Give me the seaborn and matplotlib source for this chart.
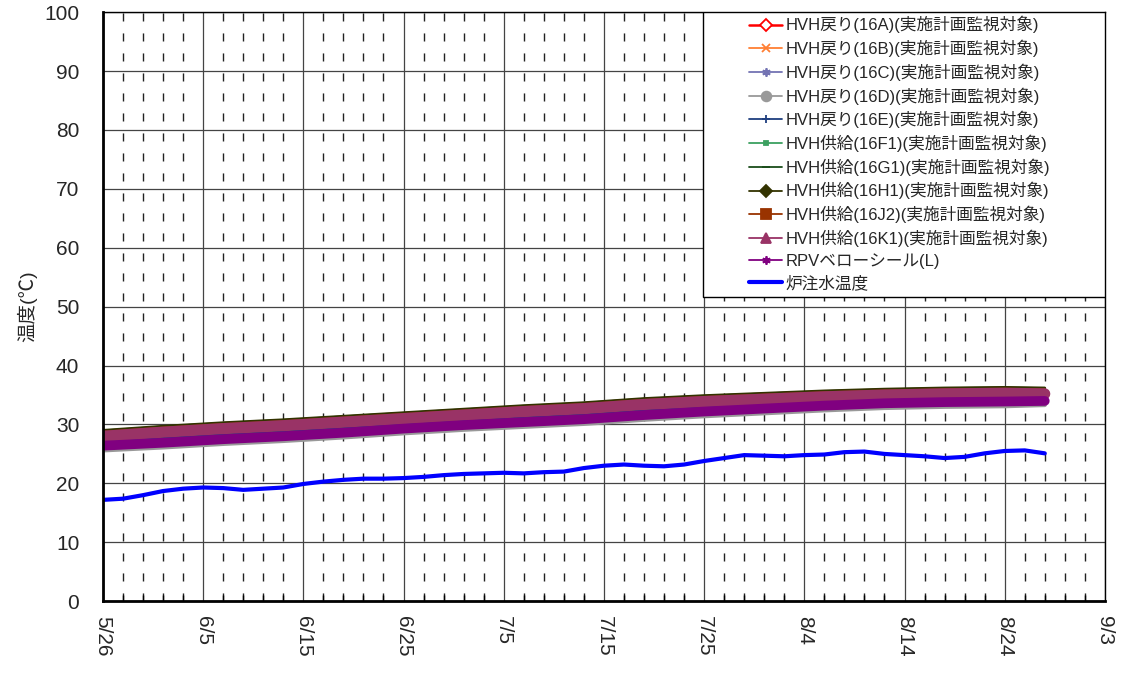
import matplotlib
matplotlib.use("Agg")
import matplotlib.pyplot as plt
from matplotlib.lines import Line2D
from matplotlib.patches import Rectangle
from matplotlib.ticker import MultipleLocator
import seaborn as sns

# x positions are days counted from 5/26
band_days = [0, 6, 12, 18, 24, 30, 36, 42, 48, 54, 60, 66, 72, 78, 84, 90, 94]
inj_days = list(range(0, 95, 2))
tick_labels = ["5/26", "6/5", "6/15", "6/25", "7/5", "7/15", "7/25", "8/4", "8/14", "8/24", "9/3"]

hvh_16a = [27.8, 28.5, 29.1, 29.6, 30.2, 30.8, 31.4, 32.0, 32.5, 33.2, 33.7, 34.1, 34.5, 34.8, 35.0, 35.1, 35.0]
hvh_16b = [27.6, 28.3, 28.9, 29.4, 30.0, 30.6, 31.2, 31.8, 32.3, 33.0, 33.5, 33.9, 34.3, 34.6, 34.8, 34.9, 34.8]
hvh_16c = [27.0, 27.7, 28.3, 28.8, 29.4, 30.0, 30.6, 31.2, 31.7, 32.4, 32.9, 33.3, 33.7, 34.0, 34.2, 34.3, 34.2]
hvh_16d = [25.6, 26.1, 26.7, 27.2, 27.8, 28.5, 29.1, 29.6, 30.1, 30.8, 31.4, 31.9, 32.4, 32.8, 33.0, 33.1, 33.3]
hvh_16e = [27.1, 27.8, 28.4, 28.9, 29.5, 30.1, 30.8, 31.4, 31.9, 32.6, 33.1, 33.5, 33.9, 34.2, 34.4, 34.5, 34.4]
hvh_16f1 = [27.4, 28.1, 28.7, 29.2, 29.8, 30.4, 31.0, 31.6, 32.1, 32.8, 33.3, 33.7, 34.1, 34.4, 34.6, 34.7, 34.6]
hvh_16g1 = [28.9, 29.6, 30.2, 30.7, 31.3, 31.9, 32.5, 33.1, 33.6, 34.3, 34.8, 35.2, 35.6, 35.9, 36.1, 36.2, 36.1]
hvh_16h1 = [29.0, 29.7, 30.3, 30.8, 31.4, 32.0, 32.6, 33.2, 33.7, 34.4, 34.9, 35.3, 35.7, 36.0, 36.2, 36.3, 36.2]
hvh_16j2 = [28.7, 29.4, 30.0, 30.5, 31.1, 31.7, 32.3, 32.9, 33.4, 34.1, 34.6, 35.0, 35.4, 35.7, 35.9, 36.0, 35.9]
hvh_16k1 = [28.0, 28.7, 29.3, 29.8, 30.4, 31.0, 31.6, 32.2, 32.7, 33.4, 33.9, 34.3, 34.7, 35.0, 35.2, 35.3, 35.2]
rpv_seal = [26.4, 26.9, 27.5, 28.0, 28.6, 29.3, 29.9, 30.4, 30.9, 31.6, 32.2, 32.7, 33.2, 33.6, 33.8, 33.9, 34.0]
inj_temp = [17.2, 17.4, 18.0, 18.7, 19.1, 19.3, 19.2, 18.9, 19.1, 19.3,
            19.9, 20.3, 20.6, 20.8, 20.8, 20.9, 21.1, 21.4, 21.6, 21.7,
            21.8, 21.7, 21.9, 22.0, 22.6, 23.0, 23.2, 23.0, 22.9, 23.2,
            23.8, 24.3, 24.8, 24.7, 24.6, 24.8, 24.9, 25.3, 25.4, 25.0,
            24.8, 24.6, 24.3, 24.5, 25.1, 25.5, 25.6, 25.1]

# label, values, colour, line width, legend marker, marker face
series = [
    ("HVH戻り(16A)(実施計画監視対象)", hvh_16a, "#FF0000", 2, "D", "white"),
    ("HVH戻り(16B)(実施計画監視対象)", hvh_16b, "#FF7F33", 2, "x", None),
    ("HVH戻り(16C)(実施計画監視対象)", hvh_16c, "#7373B3", 2, (6, 2, 0), None),
    ("HVH戻り(16D)(実施計画監視対象)", hvh_16d, "#999999", 3, "o", None),
    ("HVH戻り(16E)(実施計画監視対象)", hvh_16e, "#1F3F7F", 2.5, "+", None),
    ("HVH供給(16F1)(実施計画監視対象)", hvh_16f1, "#3CA060", 2, "s", None),
    ("HVH供給(16G1)(実施計画監視対象)", hvh_16g1, "#1A4D1A", 2, "_", None),
    ("HVH供給(16H1)(実施計画監視対象)", hvh_16h1, "#333300", 2, "D", None),
    ("HVH供給(16J2)(実施計画監視対象)", hvh_16j2, "#993300", 2, "s", None),
    ("HVH供給(16K1)(実施計画監視対象)", hvh_16k1, "#993366", 8, "^", None),
    ("RPVベローシール(L)", rpv_seal, "#800080", 7, (6, 2, 0), None),
]

sns.set_theme(style="white")
plt.rcParams["font.family"] = ["Liberation Sans", "Noto Sans CJK JP", "DejaVu Sans"]

fig, ax = plt.subplots(figsize=(11.24, 6.77), dpi=100)
fig.subplots_adjust(left=0.0916, right=0.983, top=0.982, bottom=0.112)

handles = []
for label, vals, color, lw, mk, mfc in series:
    sns.lineplot(x=band_days, y=vals, ax=ax, color=color, linewidth=lw, legend=False)
    ms = 6 if mk not in ("s", "^", "o") else 7
    if label.startswith("HVH供給(16F1)"):
        ms = 3
    handles.append(Line2D([0], [0], color=color, lw=1.8 if mfc else 1.3, marker=mk, markersize=ms,
                          markerfacecolor=mfc if mfc else color, markeredgecolor=color,
                          markeredgewidth=1.3, label=label))

sns.lineplot(x=inj_days, y=inj_temp, ax=ax, color="#0000FF", linewidth=3, legend=False)
handles.append(Line2D([0], [0], color="#0000FF", lw=3, label="炉注水温度"))

ax.set_xlim(0, 100)
ax.set_ylim(0, 100)
ax.xaxis.set_major_locator(MultipleLocator(10))
ax.xaxis.set_minor_locator(MultipleLocator(2))
ax.yaxis.set_major_locator(MultipleLocator(10))
ax.set_xticks(range(0, 101, 10))
ax.set_xticklabels(tick_labels, rotation=270, fontsize=15)
ax.tick_params(axis="y", labelsize=15, direction="in", length=0, pad=17)
ax.tick_params(axis="x", which="major", direction="in", length=6, pad=11, color="black")
ax.tick_params(axis="x", which="minor", direction="in", length=4, color="black", bottom=True)

ax.grid(which="major", axis="both", color="#444444", lw=0.9, ls="-")
ax.grid(which="minor", axis="x", color="#222222", lw=1.0, ls=(0, (5.8, 8.6)))
ax.set_axisbelow(True)

for side in ["top", "right"]:
    ax.spines[side].set_color("black")
    ax.spines[side].set_linewidth(1.0)
for side in ["left", "bottom"]:
    ax.spines[side].set_color("black")
    ax.spines[side].set_linewidth(2.0)

ax.set_xlabel("")
ax.set_ylabel("温度(℃)", fontsize=14, labelpad=5)

ax.add_patch(Rectangle((0.599, 0.516), 0.401, 0.484, transform=ax.transAxes,
                       facecolor="white", edgecolor="black", lw=1.0, zorder=5))
leg = ax.legend(handles=handles, loc="center", bbox_to_anchor=(0.795, 0.76), frameon=False,
                fontsize=12, handlelength=2.0, handletextpad=0.2, labelspacing=0.38,
                borderpad=0)
leg.set_zorder(6)

fig.savefig("out.png", dpi=100)
